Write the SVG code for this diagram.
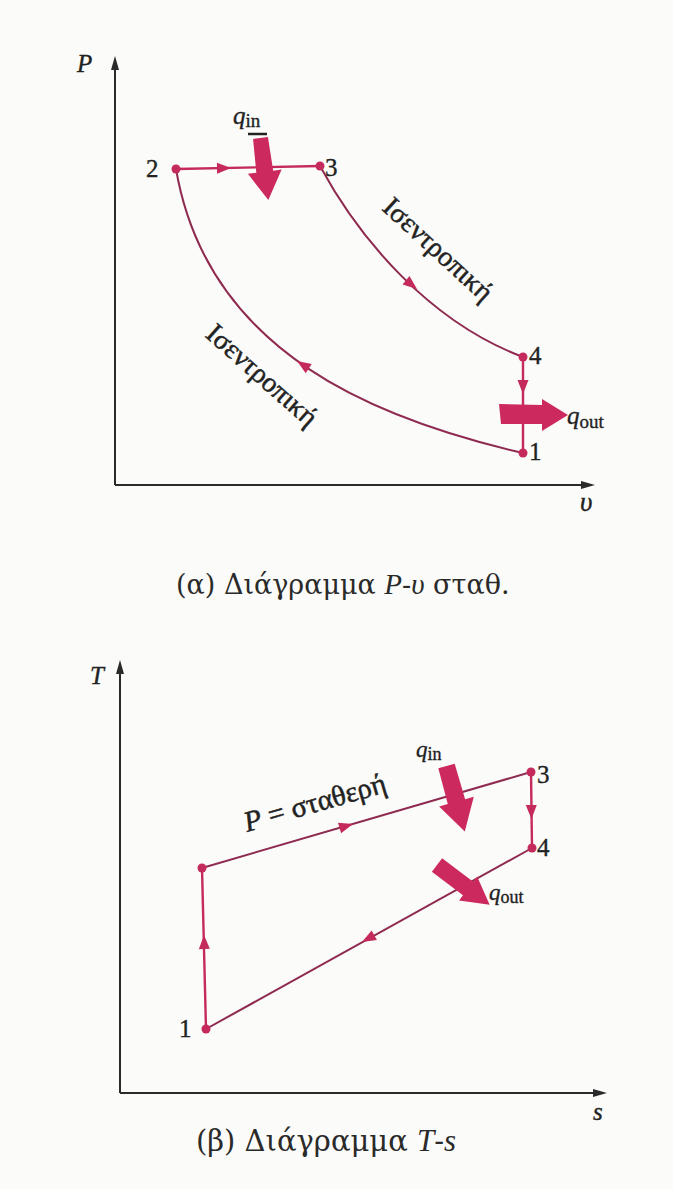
<svg xmlns="http://www.w3.org/2000/svg" xmlns:xlink="http://www.w3.org/1999/xlink" width="673" height="1189" viewBox="0 0 673 1189">
  <defs>
    <style>
      .ax { stroke: #2a2a2a; stroke-width: 2; fill: none; }
      .axh { fill: #2a2a2a; }
      .cy { stroke: #8e2a50; stroke-width: 2; fill: none; }
      .cyv { stroke: #c42a5c; stroke-width: 2.4; fill: none; }
      .ah { fill: #c42a5c; }
      .pt { fill: #c42a5c; }
      .big { fill: #cc2a5e; }
      .lbl { font-family: "Liberation Serif", "DejaVu Serif", serif; fill: #222; stroke: #222; stroke-width: 0.35; }
      .it { font-style: italic; }
      .gr { font-family: "Liberation Serif", "DejaVu Serif", serif; fill: #222; stroke: #222; stroke-width: 0.5; }
      .cap { font-family: "DejaVu Serif", "Liberation Serif", serif; fill: #2a2a2a; }
      .capi { font-family: "Liberation Serif", serif; font-style: italic; }
    </style>
    <path id="tri" d="M0,0 L-14,-5.5 L-14,5.5 Z"/>
    <path id="axtip" d="M0,0 L-14,-4 L-14,4 Z"/>
  </defs>

  <rect width="673" height="1189" fill="#fbfbf9"/>

  <!-- ===== (a) P-v diagram ===== -->
  <g id="pv-axes">
    <line class="ax" x1="115" y1="485" x2="115" y2="62"/>
    <use href="#axtip" class="axh" transform="translate(115,56) rotate(-90)"/>
    <line class="ax" x1="115" y1="485" x2="588" y2="485"/>
    <use href="#axtip" class="axh" transform="translate(595,485)"/>
    <text class="lbl it" x="77" y="72" font-size="25">P</text>
    <text class="lbl it" x="580" y="511" font-size="27">υ</text>
  </g>

  <g id="pv-connectors">
    <line class="cyv" x1="176" y1="169" x2="320" y2="166"/>
    <path class="cy" d="M320,166 C360,240 430,322 523,357"/>
    <line class="cyv" x1="523" y1="357" x2="523" y2="453"/>
    <path class="cy" d="M523,453 C380,420 208,355 176,169"/>
    <use href="#tri" class="ah" transform="translate(231,168) rotate(-1)"/>
    <use href="#tri" class="ah" transform="translate(417,289) rotate(38.6)"/>
    <use href="#tri" class="ah" transform="translate(523,394) rotate(90)"/>
    <use href="#tri" class="ah" transform="translate(297,361) rotate(-146.9)"/>
  </g>

  <g id="pv-node-2">
    <circle class="pt" cx="176" cy="169" r="4.5"/>
    <text class="lbl" x="146" y="177" font-size="25">2</text>
  </g>
  <g id="pv-node-3">
    <circle class="pt" cx="320" cy="166" r="4.5"/>
    <text class="lbl" x="325" y="176" font-size="25">3</text>
  </g>
  <g id="pv-node-4">
    <circle class="pt" cx="523" cy="357" r="4.5"/>
    <text class="lbl" x="529" y="364" font-size="25">4</text>
  </g>
  <g id="pv-node-1">
    <circle class="pt" cx="523" cy="453" r="4.5"/>
    <text class="lbl" x="529" y="460" font-size="25">1</text>
  </g>

  <g id="pv-qin">
    <polygon class="big" transform="translate(260.5,138) rotate(82.8)" points="0,-7.5 34,-8.5 34,-17 62.5,0 34,17 34,8.5 0,7.5"/>
    <line x1="248" y1="134" x2="267" y2="134" stroke="#222" stroke-width="2.5"/>
    <text class="lbl" x="233" y="124" font-size="25"><tspan class="it">q</tspan><tspan font-size="19" dy="3">in</tspan></text>
  </g>

  <g id="pv-qout">
    <polygon class="big" points="499,404 542,405 542,399 568,415 542,431 542,424 501,424"/>
    <text class="lbl" x="567" y="424" font-size="25"><tspan class="it">q</tspan><tspan font-size="19" dy="4">out</tspan></text>
  </g>

  <g id="pv-labels">
    <text class="gr" font-size="28" text-anchor="middle" transform="translate(432,256) rotate(42.5)">Ισεντροπική</text>
    <text class="gr" font-size="28" text-anchor="middle" transform="translate(256,382) rotate(41.5)">Ισεντροπική</text>
  </g>

  <g id="caption-a">
    <text class="cap" x="176" y="594" font-size="27">(α) Διάγραμμα <tspan class="capi" font-size="29">P</tspan>-<tspan class="capi" font-size="29">υ</tspan>  σταθ.</text>
  </g>

  <!-- ===== (b) T-s diagram ===== -->
  <g id="ts-axes">
    <line class="ax" x1="120" y1="1093" x2="120" y2="666"/>
    <use href="#axtip" class="axh" transform="translate(120,660) rotate(-90)"/>
    <line class="ax" x1="120" y1="1093" x2="600" y2="1093"/>
    <use href="#axtip" class="axh" transform="translate(607,1093)"/>
    <text class="lbl it" x="90" y="684" font-size="25">T</text>
    <text class="lbl it" x="593" y="1120" font-size="25">s</text>
  </g>

  <g id="ts-connectors">
    <line class="cyv" x1="206" y1="1029" x2="202" y2="868"/>
    <line class="cy" x1="202" y1="868" x2="531" y2="772"/>
    <line class="cyv" x1="531" y1="772" x2="532" y2="848"/>
    <line class="cy" x1="532" y1="848" x2="206" y2="1029"/>
    <use href="#tri" class="ah" transform="translate(204,935) rotate(-91.4)"/>
    <use href="#tri" class="ah" transform="translate(353,824) rotate(-16.3)"/>
    <use href="#tri" class="ah" transform="translate(531.5,819) rotate(89)"/>
    <use href="#tri" class="ah" transform="translate(362,942) rotate(151)"/>
  </g>

  <g id="ts-node-2">
    <circle class="pt" cx="202" cy="868" r="4.5"/>
  </g>
  <g id="ts-node-3">
    <circle class="pt" cx="531" cy="772" r="4.5"/>
    <text class="lbl" x="537" y="783" font-size="25">3</text>
  </g>
  <g id="ts-node-4">
    <circle class="pt" cx="532" cy="848" r="4.5"/>
    <text class="lbl" x="537" y="856" font-size="25">4</text>
  </g>
  <g id="ts-node-1">
    <circle class="pt" cx="206" cy="1029" r="4.5"/>
    <text class="lbl" x="179" y="1037" font-size="25">1</text>
  </g>

  <g id="ts-qin">
    <polygon class="big" transform="translate(446.5,766) rotate(74.4)" points="0,-8.5 37,-9 37,-18 68,0 37,18 37,9 0,8.5"/>
    <text class="lbl" x="416" y="757" font-size="23"><tspan class="it">q</tspan><tspan font-size="18" dy="3">in</tspan></text>
  </g>

  <g id="ts-qout">
    <polygon class="big" transform="translate(437,865) rotate(37.1)" points="0,-8.5 39,-8.5 39,-15 66,0 39,15 39,8.5 0,8.5"/>
    <text class="lbl" x="489" y="900" font-size="23"><tspan class="it">q</tspan><tspan font-size="18" dy="3">out</tspan></text>
  </g>

  <g id="ts-labels">
    <text class="gr" font-size="29" transform="translate(247,832) rotate(-16)"><tspan font-style="italic">P</tspan> = σταθερή</text>
  </g>

  <g id="caption-b">
    <text class="cap" x="196" y="1151" font-size="29">(β) Διάγραμμα <tspan class="capi" font-size="31">T</tspan>-<tspan class="capi" font-size="31">s</tspan></text>
  </g>
</svg>
